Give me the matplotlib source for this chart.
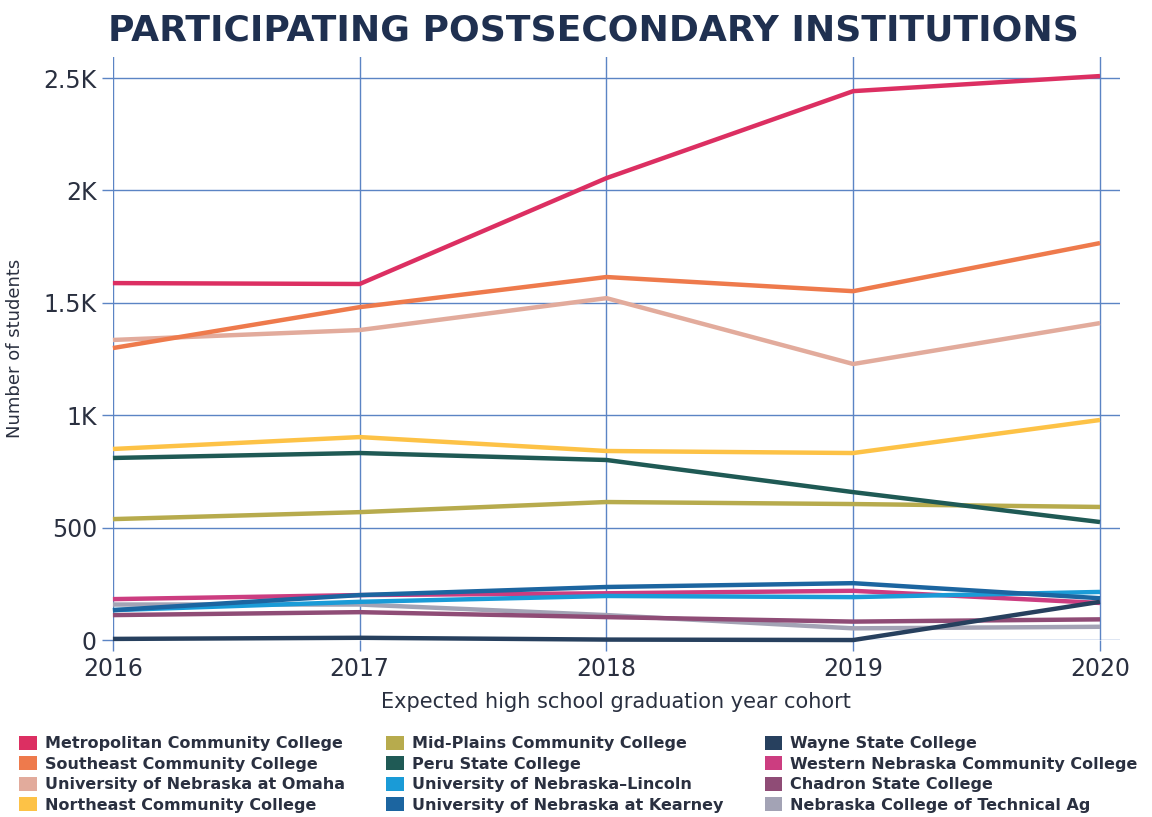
import matplotlib.pyplot as plt
from matplotlib.patches import Patch

# ---------------------------------
# DATA
# ---------------------------------
years = [2016, 2017, 2018, 2019, 2020]

institutions = [
    "Metropolitan Community College",
    "Southeast Community College",
    "University of Nebraska at Omaha",
    "Northeast Community College",
    "Mid-Plains Community College",
    "Peru State College",
    "University of Nebraska–Lincoln",
    "University of Nebraska at Kearney",
    "Wayne State College",
    "Western Nebraska Community College",
    "Chadron State College",
    "Nebraska College of Technical Ag",
]

metro = [1588, 1584, 2055, 2442, 2509]
southeast = [1299, 1481, 1615, 1552, 1766]
uno = [1335, 1379, 1521, 1228, 1410]
northeast = [850, 903, 841, 832, 979]
midplains = [538, 569, 614, 605, 592]
peru = [810, 832, 801, 658, 525]
unl = [133, 170, 196, 191, 214]
unk = [133, 200, 236, 253, 186]
wayne = [5, 10, 2, 0, 170]
western = [182, 200, 208, 219, 165]
chadron = [111, 124, 102, 82, 92]
ncta = [158, 158, 111, 52, 59]

series = [metro, southeast, uno, northeast, midplains, peru,
          unl, unk, wayne, western, chadron, ncta]

colors = ["#dc2f62", "#ee7a4c", "#e2ab9c", "#fdc246", "#b7ab4d", "#1f5a55",
          "#1a9bd7", "#1c65a0", "#27405e", "#cc3d80", "#8f4c76", "#a3a3b5"]

# drawing order: low lines first, big ones on top
draw_order = [11, 10, 9, 6, 7, 8, 4, 5, 3, 2, 1, 0]

y_ticks = [0, 500, 1000, 1500, 2000, 2500]
y_labels = ["0", "500", "1K", "1.5K", "2K", "2.5K"]

text_col = "#2a3040"
grid_col = "#5b84c4"

# ---------------------------------
# PLOT
# ---------------------------------
fig = plt.figure(figsize=(11.52, 8.17), dpi=100)
ax = fig.add_axes([0.098, 0.2166, 0.874, 0.7134])

for i in draw_order:
    ax.plot(years, series[i], color=colors[i], lw=3.2, clip_on=False,
            solid_capstyle="butt", zorder=3)

ax.set_xlim(2016, 2020.08)
ax.set_ylim(0, 2593)
ax.set_xticks(years)
ax.set_yticks(y_ticks)
ax.set_yticklabels(y_labels)

ax.grid(True, color=grid_col, lw=1)
ax.set_axisbelow(True)
for s in ax.spines.values():
    s.set_visible(False)

ax.tick_params(axis="both", colors=grid_col, length=8, width=1,
               labelcolor=text_col, labelsize=17)
ax.tick_params(axis="x", pad=4)

ax.set_xlabel("Expected high school graduation year cohort", fontsize=15,
              color=text_col, labelpad=8)
ax.set_ylabel("Number of students", fontsize=13, color=text_col, labelpad=14)

fig.text(0.515, 0.963, "PARTICIPATING POSTSECONDARY INSTITUTIONS",
         ha="center", va="center", fontsize=26, fontweight="bold",
         color="#1f3050")

handles = [Patch(facecolor=c, edgecolor="none") for c in colors]
fig.legend(handles, institutions, ncol=3, loc="upper left",
           bbox_to_anchor=(0.004, 0.117), frameon=False,
           prop={"size": 11.5, "weight": "bold"},
           handlelength=1.1, handleheight=1.0, handletextpad=0.5,
           columnspacing=2.6, labelspacing=0.3, labelcolor=text_col)

fig.savefig("out.png", dpi=100)
